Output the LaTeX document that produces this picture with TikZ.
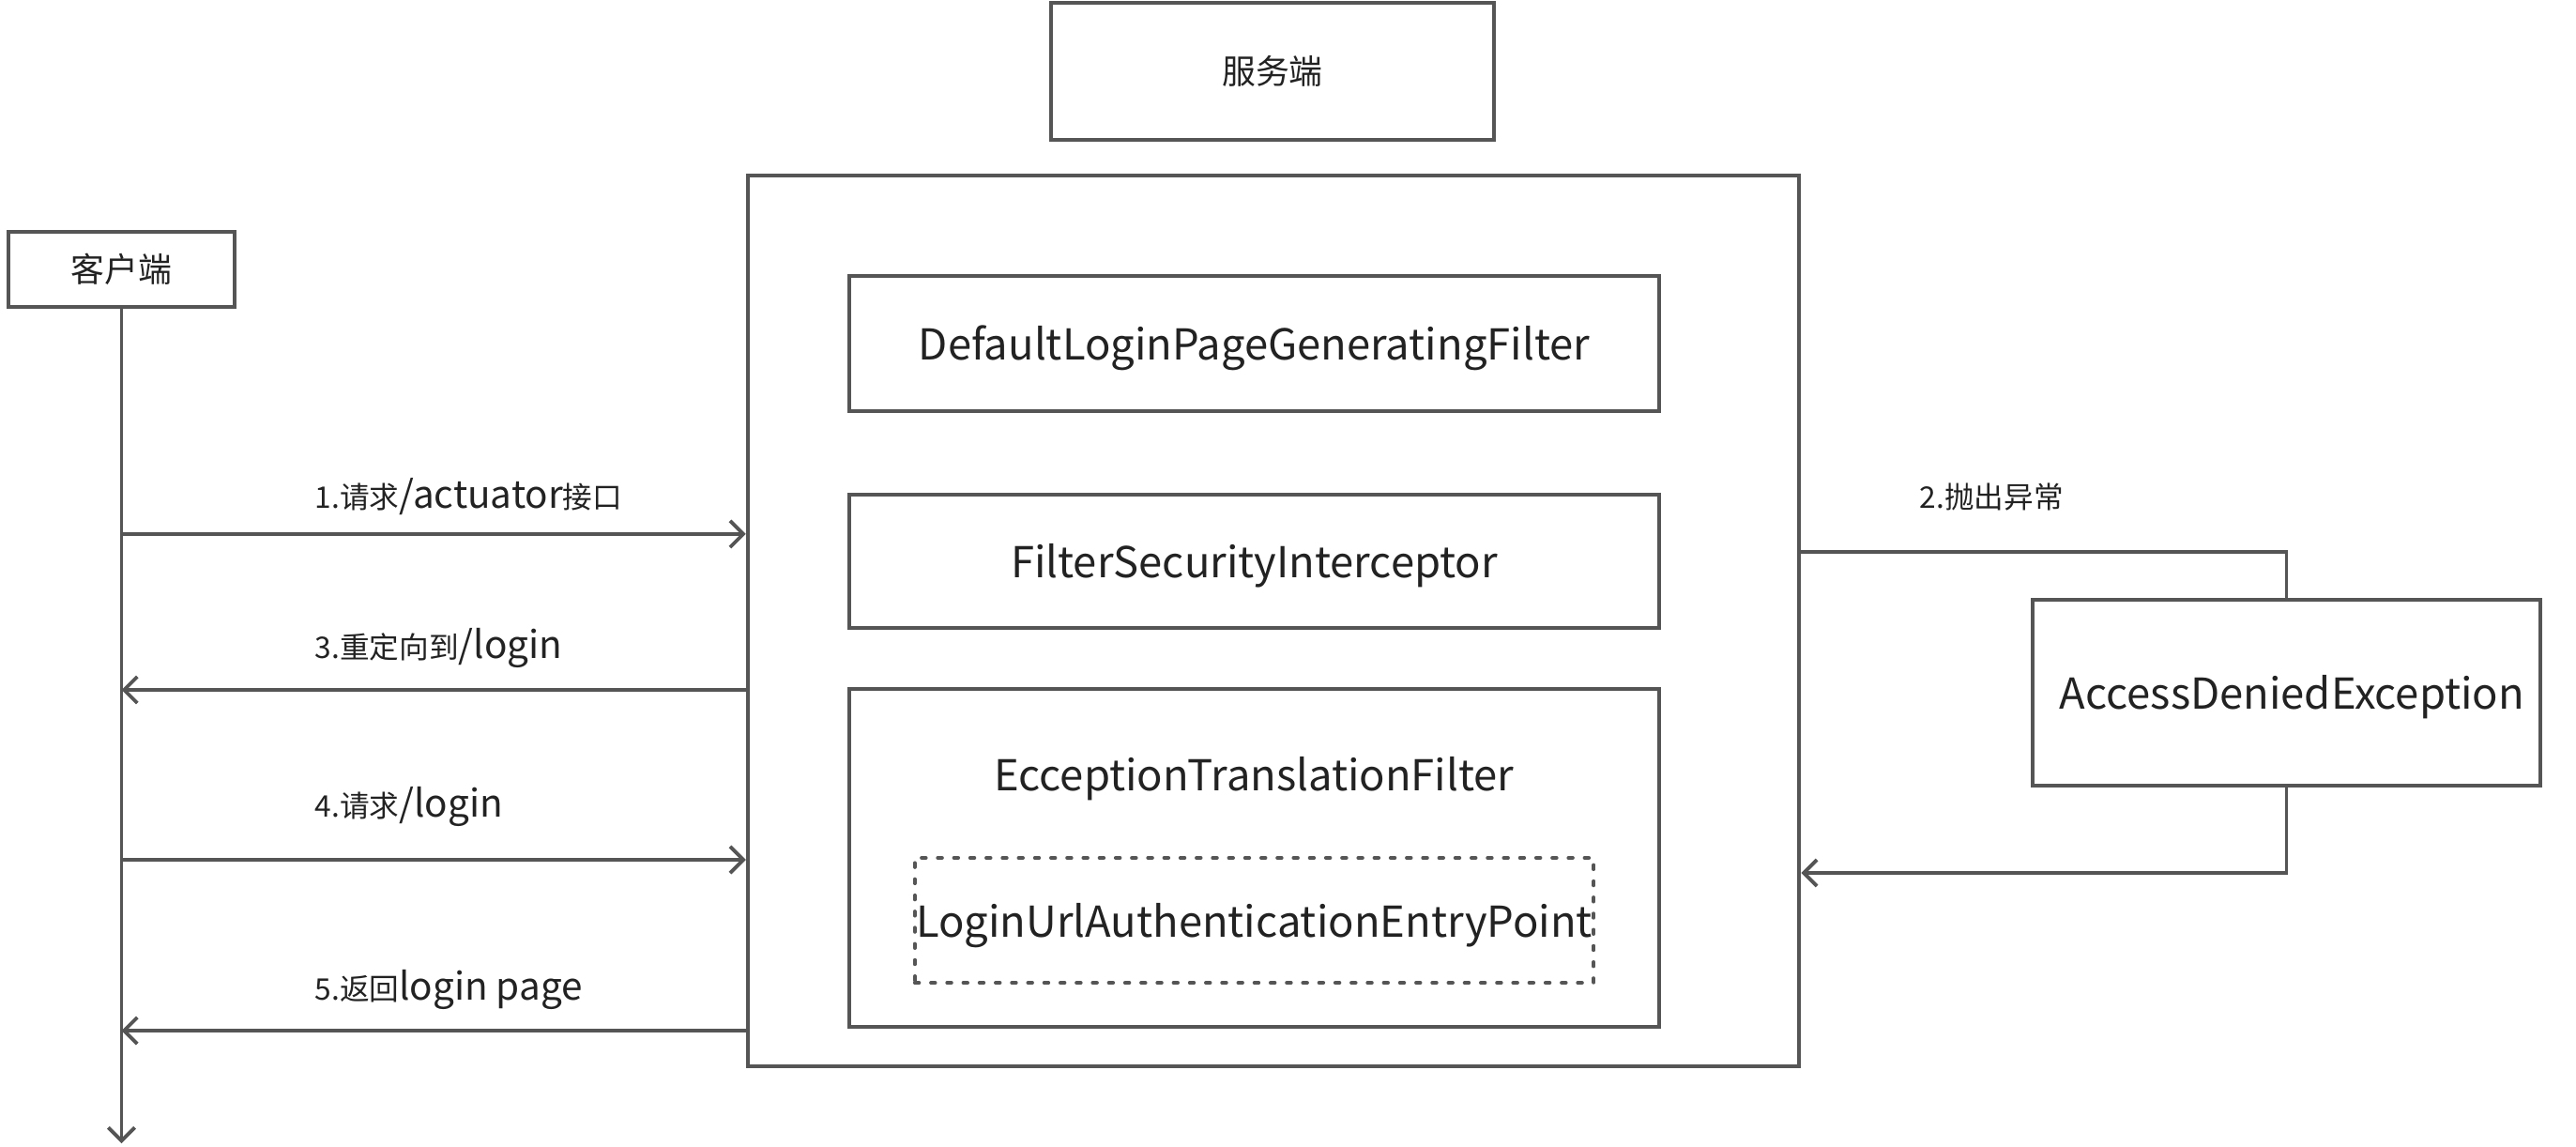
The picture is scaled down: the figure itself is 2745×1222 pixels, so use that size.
\documentclass[tikz,border=0pt]{standalone}
\usepackage{fontspec}
\setmainfont{Noto Sans CJK SC}
\usetikzlibrary{arrows.meta}
\definecolor{lc}{HTML}{555555}
\definecolor{tc}{HTML}{222222}
\newcommand{\smz}{\fontsize{9pt}{11pt}\selectfont}
\newcommand{\lgz}{\fontsize{11.5pt}{14pt}\selectfont}
\newcommand{\bxz}{\fontsize{12.9pt}{16pt}\selectfont}
\newcommand{\cnz}{\fontsize{10.2pt}{12pt}\selectfont}
\begin{document}
\begin{tikzpicture}[x=0.01cm,y=-0.01cm,
  boxstyle/.style={draw=lc, line width=1.1pt, inner sep=0pt, text=tc, rectangle},
  latinbox/.style={boxstyle, font=\bxz, text height=1.0em, text depth=0pt},
  dotbox/.style={latinbox, dash pattern=on 1.3pt off 3.6pt, line cap=round},
  arr/.style={draw=lc, line width=1.1pt, -{Straight Barb[length=4pt,width=8pt,line width=1.1pt]}},
  plain/.style={draw=lc, line width=1.1pt},
  lbl/.style={inner sep=0pt, anchor=base west, text=tc}]
\useasboundingbox (0,0) rectangle (2745,1222);
% boxes
\node[boxstyle, minimum width=4.72cm, minimum height=1.46cm, font=\cnz] (srv) at (1356,76) {服务端};
\node[boxstyle, minimum width=2.41cm, minimum height=0.80cm, font=\cnz] (client) at (129.5,287) {客户端};
\node[boxstyle, minimum width=11.20cm, minimum height=9.49cm] (server) at (1357,661.5) {};
\node[latinbox, minimum width=8.63cm, minimum height=1.44cm] (f1) at (1336.5,366) {DefaultLoginPageGeneratingFilter};
\node[latinbox, minimum width=8.63cm, minimum height=1.42cm] (f2) at (1336.5,598) {FilterSecurityInterceptor};
\node[boxstyle, minimum width=8.63cm, minimum height=3.60cm] (f3) at (1336.5,914) {};
\node[inner sep=0pt, text=tc, font=\bxz, text height=1.0em, text depth=0pt] (f3t) at (1336.5,825) {EcceptionTranslationFilter};
\node[dotbox, minimum width=7.23cm, minimum height=1.33cm] (ep) at (1336.5,980.5) {LoginUrlAuthenticationEntryPoint};
\node[latinbox, minimum width=5.41cm, minimum height=1.98cm] (ade) at (2436.5,738) {\hspace*{0.12cm}AccessDeniedException};
% helper coordinates
\coordinate (y1) at (0,569);
\coordinate (y2) at (0,588);
\coordinate (y3) at (0,735);
\coordinate (y4) at (0,916);
\coordinate (y5) at (0,1098);
\coordinate (y6) at (0,930);
\coordinate (lifeend) at (129.5,1218);
% lifeline
\draw[arr] (client.south) -- (lifeend);
% messages
\draw[arr] (client.south |- y1) -- (server.west |- y1);
\draw[arr] (server.west |- y3) -- (client.south |- y3);
\draw[arr] (client.south |- y4) -- (server.west |- y4);
\draw[arr] (server.west |- y5) -- (client.south |- y5);
\draw[plain] (server.east |- y2) -| (ade.north);
\draw[arr] (ade.south) |- (server.east |- y6);
% labels
\node[lbl] (l1) at (335,542) {\smz 1.请求\lgz/actuator\smz 接口};
\node[lbl] (l3) at (335,702) {\smz 3.重定向到\lgz/login};
\node[lbl] (l4) at (335,870) {\smz 4.请求\lgz/login};
\node[lbl] (l5) at (335,1065) {\smz 5.返回\lgz login page};
\node[lbl] (l2) at (2045,542) {\smz 2.抛出异常};
\end{tikzpicture}
\end{document}
